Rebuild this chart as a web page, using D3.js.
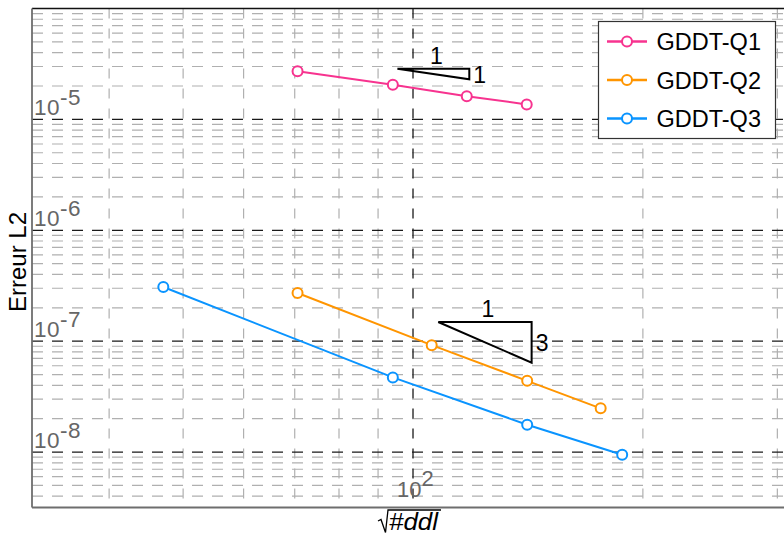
<!DOCTYPE html>
<html>
<head>
<meta charset="utf-8">
<script src="https://cdn.jsdelivr.net/npm/d3@7"></script>
<style>
  html, body { margin: 0; padding: 0; background: #fff; }
  svg { display: block; }
  text { font-family: "Liberation Sans", Arial, Helvetica, sans-serif; }
</style>
</head>
<body>
<svg id="chart" width="784" height="535"></svg>
<script>
// ---------------- data ----------------
const seriesNames = ["GDDT-Q1", "GDDT-Q2", "GDDT-Q3"];
const seriesColors = ["#f7338f", "#ff9500", "#0a94ff"];
const xQ1 = [70.6, 94.1, 117.6, 140.9];
const yQ1 = [2.72e-5, 2.05e-5, 1.62e-5, 1.365e-5];
const xQ2 = [70.6, 105.8, 141.1, 176.1];
const yQ2 = [2.72e-7, 9.2e-8, 4.39e-8, 2.48e-8];
const xQ3 = [47.1, 94.1, 141.1, 187.9];
const yQ3 = [3.08e-7, 4.71e-8, 1.765e-8, 9.45e-9];
// slope triangles: start x, end x, start y, slope, labels
const triX0 = [95.4, 107.9];
const triX1 = [118.5, 143.0];
const triY0 = [2.86e-5, 1.49e-7];
const triSlope = [1, 3];
const triRunLabel = ["1", "1"];
const triRiseLabel = ["1", "3"];
// tick labels
const yTickExps = [-8, -7, -6, -5];
const xTickExps = [2];
const xLabel = "#ddl";
const yLabel = "Erreur L2";

// ---------------- layout ----------------
const svg = d3.select("#chart");
const pL = 32, pR = 785, pT = 8.5, pB = 507.5;
const x = d3.scaleLog().domain([31.7, 307]).range([pL, pR]);
const y = d3.scaleLog().domain([Math.pow(10, -8.5), 1e-4]).range([pB, pT]);

// ---------------- grid ----------------
const g = svg.append("g");
const hMinor = [];
for (let e = -9; e <= -4; e++) for (let k = 2; k <= 9; k++) {
  const v = k * Math.pow(10, e);
  if (v > y.domain()[0] && v < y.domain()[1]) hMinor.push(v);
}
const hMajor = [1e-8, 1e-7, 1e-6, 1e-5];
const vMinor = [];
for (let e = 1; e <= 2; e++) for (let k = 2; k <= 9; k++) {
  const v = k * Math.pow(10, e);
  if (v > x.domain()[0] && v < x.domain()[1]) vMinor.push(v);
}
const vMajor = [100];

g.selectAll(".vmin").data(vMinor).join("line")
  .attr("x1", d => x(d)).attr("x2", d => x(d))
  .attr("y1", pT).attr("y2", pB)
  .attr("stroke", "#b0b0b0").attr("stroke-width", 1.2)
  .attr("stroke-dasharray", "10,10");
g.selectAll(".hmin").data(hMinor).join("line")
  .attr("x1", pL).attr("x2", pR)
  .attr("y1", d => y(d)).attr("y2", d => y(d))
  .attr("stroke", "#b0b0b0").attr("stroke-width", 1.2)
  .attr("stroke-dasharray", "11,9");
g.selectAll(".hmaj").data(hMajor).join("line")
  .attr("x1", pL).attr("x2", pR)
  .attr("y1", d => y(d)).attr("y2", d => y(d))
  .attr("stroke", "#1a1a1a").attr("stroke-width", 1.3)
  .attr("stroke-dasharray", "11,9");
g.selectAll(".vmaj").data(vMajor).join("line")
  .attr("x1", d => x(d)).attr("x2", d => x(d))
  .attr("y1", pT).attr("y2", pB)
  .attr("stroke", "#1a1a1a").attr("stroke-width", 1.3)
  .attr("stroke-dasharray", "10,10");

// ---------------- axes lines ----------------
svg.append("line").attr("x1", pL).attr("x2", pR).attr("y1", pT).attr("y2", pT)
  .attr("stroke", "#111").attr("stroke-width", 1.5);
svg.append("line").attr("x1", pL).attr("x2", pL).attr("y1", pT).attr("y2", pB)
  .attr("stroke", "#6e6e6e").attr("stroke-width", 1.8);
svg.append("line").attr("x1", pL).attr("x2", pR).attr("y1", pB).attr("y2", pB)
  .attr("stroke", "#6e6e6e").attr("stroke-width", 1.8);

// ---------------- tick labels ----------------
yTickExps.forEach(e => {
  const t = svg.append("text").attr("x", 34).attr("y", y(Math.pow(10, e)) - 4.5)
    .attr("font-size", 22.5).attr("fill", "#666").attr("letter-spacing", 0.5);
  t.append("tspan").text("10");
  t.append("tspan").attr("dy", -10).text(String(e));
});
xTickExps.forEach(e => {
  const t = svg.append("text").attr("x", x(Math.pow(10, e)) - 16).attr("y", 497)
    .attr("font-size", 22).attr("fill", "#666");
  t.append("tspan").text("10");
  t.append("tspan").attr("dy", -11).text(String(e));
});

// ---------------- axis titles ----------------
svg.append("text")
  .attr("transform", "translate(26,262) rotate(-90)")
  .attr("text-anchor", "middle").attr("font-size", 24).attr("fill", "#000")
  .text(yLabel);
svg.append("path")
  .attr("d", "M378,521 L381,519.5 L385.5,532.5 L388,510 L441,510")
  .attr("fill", "none").attr("stroke", "#000").attr("stroke-width", 1.3);
svg.append("text").attr("x", 389).attr("y", 530)
  .attr("font-family", "'Liberation Serif', 'Times New Roman', serif")
  .attr("font-style", "italic").attr("font-size", 23).attr("fill", "#000")
  .attr("textLength", 49).attr("lengthAdjust", "spacingAndGlyphs")
  .text(xLabel);

// ---------------- series ----------------
const series = [
  { name: seriesNames[0], color: seriesColors[0], xs: xQ1, ys: yQ1 },
  { name: seriesNames[1], color: seriesColors[1], xs: xQ2, ys: yQ2 },
  { name: seriesNames[2], color: seriesColors[2], xs: xQ3, ys: yQ3 }
];
const line = d3.line().x(d => x(d[0])).y(d => y(d[1]));
series.forEach(s => {
  const pts = s.xs.map((v, i) => [v, s.ys[i]]);
  svg.append("path").datum(pts).attr("d", line)
    .attr("fill", "none").attr("stroke", s.color).attr("stroke-width", 2);
  svg.selectAll(null).data(pts).join("circle")
    .attr("cx", d => x(d[0])).attr("cy", d => y(d[1])).attr("r", 5)
    .attr("fill", "#fff").attr("stroke", s.color).attr("stroke-width", 2);
});

// ---------------- slope triangles ----------------
triX0.forEach((x0, i) => {
  const x1 = triX1[i], y0 = triY0[i];
  const y1 = y0 * Math.pow(x0 / x1, triSlope[i]);
  const p = [[x0, y0], [x1, y0], [x1, y1], [x0, y0]];
  svg.append("path").datum(p).attr("d", line)
    .attr("fill", "none").attr("stroke", "#000").attr("stroke-width", 2);
  svg.append("text").attr("x", (x(x0) + x(x1)) / 2 + 3).attr("y", y(y0) - 5)
    .attr("text-anchor", "middle").attr("font-size", 23).attr("fill", "#000")
    .text(triRunLabel[i]);
  svg.append("text").attr("x", x(x1) + 4).attr("y", (y(y0) + y(y1)) / 2 + 8.5)
    .attr("font-size", 23).attr("fill", "#000")
    .text(triRiseLabel[i]);
});

// ---------------- legend ----------------
const lg = svg.append("g");
lg.append("rect").attr("x", 598.5).attr("y", 21.5).attr("width", 177).attr("height", 117)
  .attr("fill", "#fff").attr("stroke", "#333").attr("stroke-width", 1.2);
const rowY = [41.5, 80, 118.5];
series.forEach((s, i) => {
  lg.append("line").attr("x1", 607).attr("x2", 647).attr("y1", rowY[i]).attr("y2", rowY[i])
    .attr("stroke", s.color).attr("stroke-width", 2.3);
  lg.append("circle").attr("cx", 627).attr("cy", rowY[i]).attr("r", 5)
    .attr("fill", "#fff").attr("stroke", s.color).attr("stroke-width", 2);
  lg.append("text").attr("x", 656.5).attr("y", rowY[i] + 8.5)
    .attr("font-size", 23.5).attr("fill", "#000").text(s.name);
});
</script>
</body>
</html>
